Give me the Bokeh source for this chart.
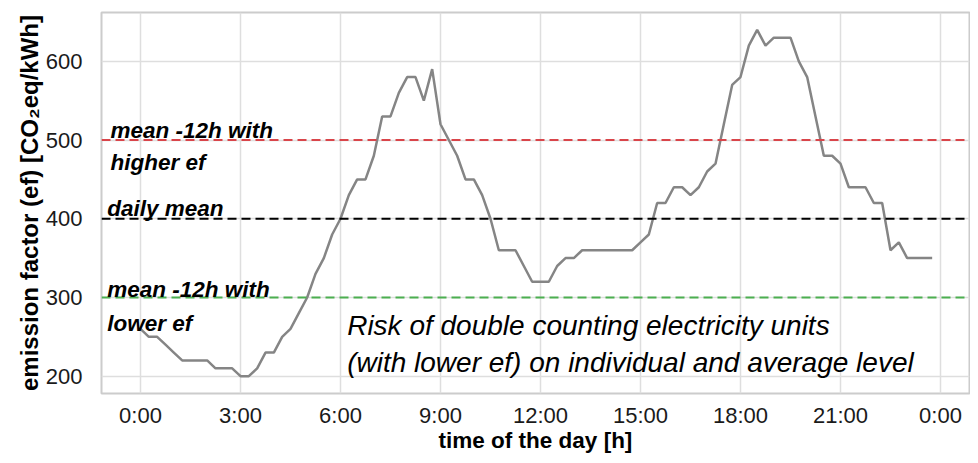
from bokeh.plotting import figure
from bokeh.models import Range1d, FixedTicker, Span, Label
from bokeh.embed import file_html
from bokeh.resources import INLINE

# time of day in hours (15-minute steps)
hours = [0.0, 0.25, 0.5, 0.75, 1.0, 1.25, 1.5, 1.75, 2.0, 2.25, 2.5, 2.75,
         3.0, 3.25, 3.5, 3.75, 4.0, 4.25, 4.5, 4.75, 5.0, 5.25, 5.5, 5.75,
         6.0, 6.25, 6.5, 6.75, 7.0, 7.25, 7.5, 7.75, 8.0, 8.25, 8.5, 8.75,
         9.0, 9.25, 9.5, 9.75, 10.0, 10.25, 10.5, 10.75, 11.0, 11.25, 11.5, 11.75,
         12.0, 12.25, 12.5, 12.75, 13.0, 13.25, 13.5, 13.75, 14.0, 14.25, 14.5, 14.75,
         15.0, 15.25, 15.5, 15.75, 16.0, 16.25, 16.5, 16.75, 17.0, 17.25, 17.5, 17.75,
         18.0, 18.25, 18.5, 18.75, 19.0, 19.25, 19.5, 19.75, 20.0, 20.25, 20.5, 20.75,
         21.0, 21.25, 21.5, 21.75, 22.0, 22.25, 22.5, 22.75, 23.0, 23.25, 23.5, 23.75]

# emission factor [CO2eq/kWh]
emission = [260, 250, 250, 240, 230, 220, 220, 220, 220, 210, 210, 210,
            200, 200, 210, 230, 230, 250, 260, 280, 300, 330, 350, 380,
            400, 430, 450, 450, 480, 530, 530, 560, 580, 580, 550, 590,
            520, 500, 480, 450, 450, 430, 400, 360, 360, 360, 340, 320,
            320, 320, 340, 350, 350, 360, 360, 360, 360, 360, 360, 360,
            370, 380, 420, 420, 440, 440, 430, 440, 460, 470, 520, 570,
            580, 620, 640, 620, 630, 630, 630, 600, 580, 530, 480, 480,
            470, 440, 440, 440, 420, 420, 360, 370, 350, 350, 350, 350]

daily_mean = 400
mean_high = 500
mean_low = 300

x_ticks = [0, 3, 6, 9, 12, 15, 18, 21, 24]
x_tick_labels = ["0:00", "3:00", "6:00", "9:00", "12:00", "15:00", "18:00", "21:00", "0:00"]
y_ticks = [200, 300, 400, 500, 600]

FONT = "Liberation Sans"

p = figure(width=970, height=455, output_backend="svg", toolbar_location=None,
           x_range=Range1d(-1.17, 24.87), y_range=Range1d(178, 662),
           min_border_left=101, min_border_right=1, min_border_top=12, min_border_bottom=61)
p.background_fill_color = "white"
p.border_fill_color = "white"
p.outline_line_color = "#CCCCCC"
p.outline_line_width = 2

p.xaxis.ticker = FixedTicker(ticks=x_ticks)
p.xaxis.major_label_overrides = {t: l for t, l in zip(x_ticks, x_tick_labels)}
p.yaxis.ticker = FixedTicker(ticks=y_ticks)
p.xgrid.ticker = FixedTicker(ticks=x_ticks)
p.ygrid.ticker = FixedTicker(ticks=y_ticks)
for g in (p.xgrid, p.ygrid):
    g.grid_line_color = "#DEDEDE"
    g.grid_line_width = 1.5

for ax in (p.xaxis, p.yaxis):
    ax.axis_line_color = None
    ax.major_tick_line_color = None
    ax.minor_tick_line_color = None
    ax.major_tick_out = 0
    ax.major_tick_in = 0
    ax.minor_tick_out = 0
    ax.minor_tick_in = 0
    ax.major_label_text_font = FONT
    ax.major_label_text_font_size = "22px"
    ax.major_label_text_color = "#1a1a1a"
    ax.axis_label_text_font = FONT
    ax.axis_label_text_font_style = "bold"
    ax.axis_label_text_color = "black"

p.xaxis.axis_label = "time of the day [h]"
p.xaxis.axis_label_text_font_size = "22.5px"
p.xaxis.major_label_standoff = 9
p.xaxis.axis_label_standoff = -3

p.yaxis.axis_label = "emission factor (ef) [CO\u2082eq/kWh]"
p.yaxis.axis_label_text_font_size = "24px"
p.yaxis.major_label_standoff = 19
p.yaxis.axis_label_standoff = 0

p.line(hours, emission, line_color="#858585", line_width=2.5)

p.add_layout(Span(location=mean_high, dimension="width", line_color="#D9454A",
                  line_dash="9 5", line_width=2))
p.add_layout(Span(location=daily_mean, dimension="width", line_color="black",
                  line_dash="9 5", line_width=2))
p.add_layout(Span(location=mean_low, dimension="width", line_color="#4CAF50",
                  line_dash="9 5", line_width=2))

def lab(x, y, text, size, style, align="left"):
    p.add_layout(Label(x=x, y=y, text=text, text_font=FONT, text_font_size=size,
                       text_font_style=style, text_color="black",
                       text_baseline="alphabetic", text_align=align))

lab(-0.9, 512, "mean -12h with", "22.5px", "bold italic")
lab(-0.9, 472, "higher  ef", "22.5px", "bold italic")
lab(-1.0, 413, "daily mean", "22.5px", "bold italic")
lab(-1.0, 309.5, "mean -12h with", "22.5px", "bold italic")
lab(-1.0, 267, "lower ef", "22.5px", "bold italic")
lab(6.2, 264, "Risk of double counting electricity units", "28px", "italic")
lab(6.2, 217, "(with lower ef) on individual and average level", "28px", "italic")

open("out.html", "w").write(file_html(p, INLINE))
